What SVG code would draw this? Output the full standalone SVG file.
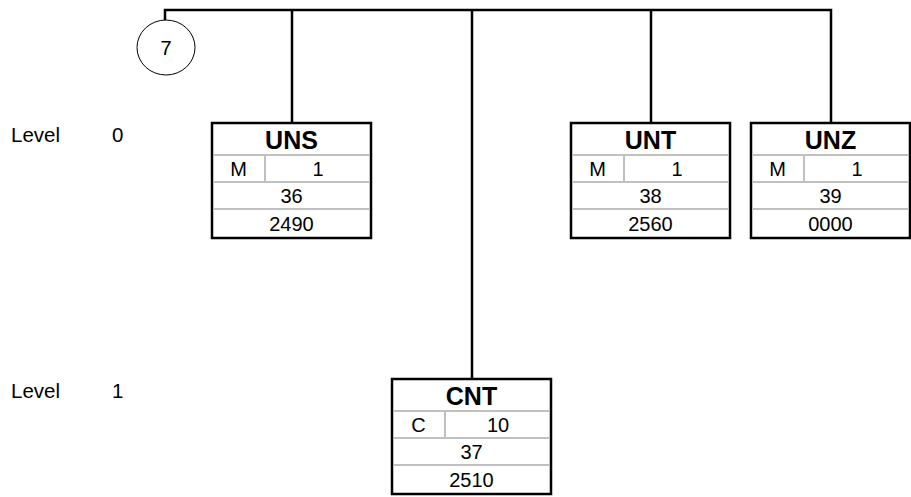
<svg xmlns="http://www.w3.org/2000/svg" width="911" height="497" viewBox="0 0 911 497">
<style>
  .bg { fill: #ffffff; }
  .wire { stroke: #000; stroke-width: 2.5; fill: none; }
  .box { fill: #fff; stroke: #000; stroke-width: 2.5; }
  .sep { stroke: #c0c0c0; stroke-width: 2; }
  .title { font-family: "Liberation Sans", Arial, sans-serif; font-weight: bold; font-size: 25px; text-anchor: middle; fill: #000; }
  .cell { font-family: "Liberation Sans", Arial, sans-serif; font-size: 20px; text-anchor: middle; fill: #000; }
  .lbl { font-family: "Liberation Sans", Arial, sans-serif; font-size: 20.5px; fill: #000; }
</style>
<defs>
  <g id="frame">
    <rect class="box" x="0" y="0" width="159" height="115"/>
    <line class="sep" x1="1.5" y1="32" x2="157.5" y2="32"/>
    <line class="sep" x1="1.5" y1="59" x2="157.5" y2="59"/>
    <line class="sep" x1="1.5" y1="86" x2="157.5" y2="86"/>
    <line class="sep" x1="53" y1="32" x2="53" y2="59"/>
  </g>
</defs>
<rect class="bg" x="0" y="0" width="911" height="497"/>

<g id="labels">
  <text class="lbl" x="11" y="142">Level</text>
  <text class="lbl" x="112" y="142">0</text>
  <text class="lbl" x="11" y="398">Level</text>
  <text class="lbl" x="112" y="398">1</text>
</g>

<g id="connectors">
  <polyline class="wire" points="165,20 165,10 831,10 831,123"/>
  <line class="wire" x1="292" y1="10" x2="292" y2="123"/>
  <line class="wire" x1="472" y1="10" x2="472" y2="379"/>
  <line class="wire" x1="651" y1="10" x2="651" y2="123"/>
</g>

<g id="node-7">
  <ellipse cx="166" cy="47.5" rx="29" ry="27.5" fill="#fff" stroke="#000" stroke-width="1"/>
  <text class="cell" x="166" y="55">7</text>
</g>

<g id="node-UNS" transform="translate(212,123)">
  <use href="#frame"/>
  <text class="title" x="79.5" y="26">UNS</text>
  <text class="cell" x="26.5" y="53">M</text>
  <text class="cell" x="106" y="53">1</text>
  <text class="cell" x="79.5" y="80">36</text>
  <text class="cell" x="79.5" y="108">2490</text>
</g>

<g id="node-UNT" transform="translate(571,123)">
  <use href="#frame"/>
  <text class="title" x="79.5" y="26">UNT</text>
  <text class="cell" x="26.5" y="53">M</text>
  <text class="cell" x="106" y="53">1</text>
  <text class="cell" x="79.5" y="80">38</text>
  <text class="cell" x="79.5" y="108">2560</text>
</g>

<g id="node-UNZ" transform="translate(751,123)">
  <use href="#frame"/>
  <text class="title" x="79.5" y="26">UNZ</text>
  <text class="cell" x="26.5" y="53">M</text>
  <text class="cell" x="106" y="53">1</text>
  <text class="cell" x="79.5" y="80">39</text>
  <text class="cell" x="79.5" y="108">0000</text>
</g>

<g id="node-CNT" transform="translate(392,379)">
  <use href="#frame"/>
  <text class="title" x="79.5" y="26">CNT</text>
  <text class="cell" x="26.5" y="53">C</text>
  <text class="cell" x="106" y="53">10</text>
  <text class="cell" x="79.5" y="80">37</text>
  <text class="cell" x="79.5" y="108">2510</text>
</g>
</svg>
